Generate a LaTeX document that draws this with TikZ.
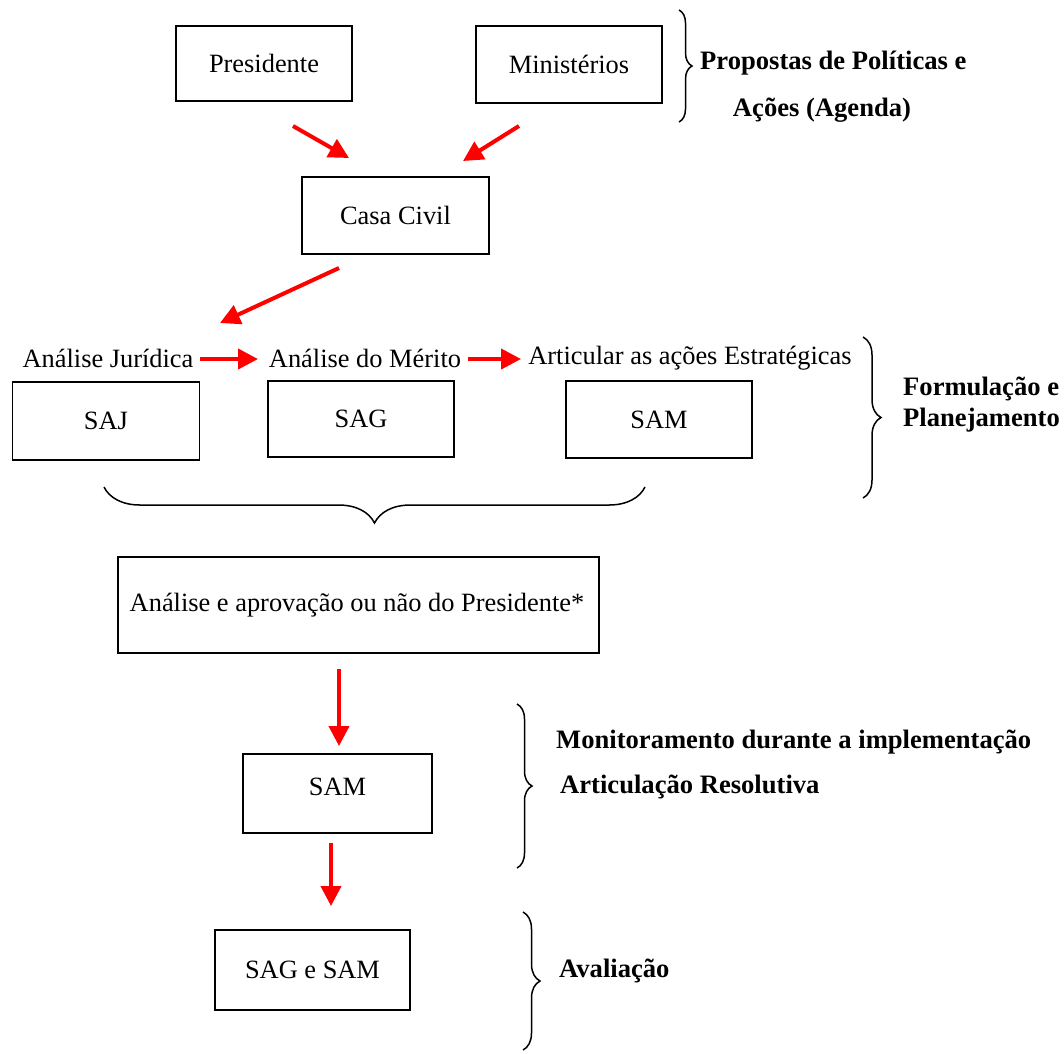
\documentclass[tikz,border=0pt]{standalone}
\usepackage{fontspec}
\setmainfont{Liberation Serif}
\usetikzlibrary{arrows.meta,decorations.pathreplacing}
\begin{document}
\begin{tikzpicture}[x=1pt,y=-1pt,
  font=\fontsize{26.4}{31}\selectfont,
  box/.style={draw, line width=1.6pt, inner sep=0pt},
  lbl/.style={inner sep=0pt},
  bl/.style={inner sep=0pt, font=\fontsize{26.6}{31}\selectfont\bfseries},
  redarrow/.style={draw=red, line width=4pt, -{Triangle[length=20pt,width=20pt]}, red},
  brc/.style={decorate, decoration={brace, amplitude=#1}, line width=1.5pt},
  brc/.default=14pt]
\useasboundingbox (0,0) rectangle (1064,1053);
% boxes
\node[box, minimum width=176pt, minimum height=75pt] (pres) at (264,63.5) {Presidente};
\node[box, minimum width=186pt, minimum height=77pt] (min) at (569,64.5) {Ministérios};
\node[box, minimum width=187pt, minimum height=77pt] (casa) at (395.5,215.5) {Casa Civil};
\node[box, minimum width=187pt, minimum height=78pt] (saj) at (106,421) {SAJ};
\node[box, minimum width=186pt, minimum height=76pt] (sag) at (361,419) {SAG};
\node[box, minimum width=186pt, minimum height=77pt] (sam) at (659,419.5) {SAM};
\node[box, minimum width=481pt, minimum height=96pt] (apr) at (358.5,605) {};
\node[lbl] (aprt) at (357,605) {Análise e aprovação ou não do Presidente*};
\node[box, minimum width=189pt, minimum height=79pt] (sam2) at (337.5,793.5) {};
\node[lbl] (sam2t) at (337.5,787) {SAM};
\node[box, minimum width=195pt, minimum height=80pt] (sagsam) at (312.5,970) {SAG e SAM};
% labels above
\node[lbl] (aj) at (108,358) {Análise Jurídica};
\node[lbl] (am) at (365,358) {Análise do Mérito};
\node[lbl] (ae) at (690,358) {Articular as ações Estratégicas};
% bold side labels
\node[bl, anchor=west] (p1) at (700,63) {Propostas de Políticas e};
\node[bl] (p2) at (822,110) {Ações (Agenda)};
\node[bl, anchor=west] (f1) at (903,389) {Formulação e};
\node[bl, anchor=west] (f2) at (903,420) {Planejamento};
\node[bl, anchor=west] (m1) at (556,742) {Monitoramento durante a implementação};
\node[bl, anchor=west] (m2) at (560,787) {Articulação Resolutiva};
\node[bl, anchor=west] (av) at (559,971) {Avaliação};
% arrow end points
\coordinate (a1s) at (293,126); \coordinate (a1e) at (349,158);
\coordinate (a2s) at (519,126); \coordinate (a2e) at (463,161);
\coordinate (a3s) at (339,268); \coordinate (a3e) at (220,323);
\coordinate (a4s) at (200,359); \coordinate (a4e) at (258,359);
\coordinate (a5s) at (468,359); \coordinate (a5e) at (521,359);
\coordinate (a6s) at (339,669); \coordinate (a6e) at (339,746);
\coordinate (a7s) at (331,843); \coordinate (a7e) at (331,906);
\draw[redarrow] (a1s) -- (a1e);
\draw[redarrow] (a2s) -- (a2e);
\draw[redarrow] (a3s) -- (a3e);
\draw[redarrow] (a4s) -- (a4e);
\draw[redarrow] (a5s) -- (a5e);
\draw[redarrow] (a6s) -- (a6e);
\draw[redarrow] (a7s) -- (a7e);
% braces
\coordinate (b1t) at (679,10); \coordinate (b1b) at (679,122);
\coordinate (b2t) at (863,337); \coordinate (b2b) at (863,498);
\coordinate (b3r) at (645,487); \coordinate (b3l) at (104,487);
\coordinate (b4t) at (517,704); \coordinate (b4b) at (517,868);
\coordinate (b5t) at (523,912); \coordinate (b5b) at (523,1050);
\draw[brc=13pt] (b1t) -- (b1b);
\draw[brc=18pt] (b2t) -- (b2b);
\draw[brc=36pt] (b3r) -- (b3l);
\draw[brc=15pt] (b4t) -- (b4b);
\draw[brc=17pt] (b5t) -- (b5b);
\end{tikzpicture}
\end{document}
